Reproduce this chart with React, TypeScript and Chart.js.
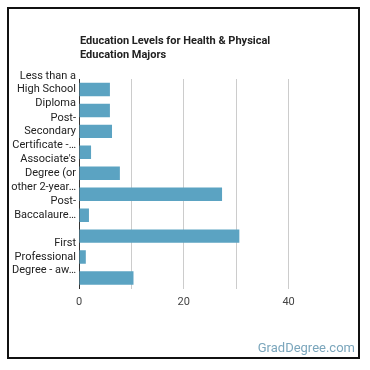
import React, { useEffect, useRef } from "react";
import { Chart, registerables } from "chart.js";
Chart.register(...registerables);

const titleLines = ["Education Levels for Health & Physical", "Education Majors"];
const categories = [
  "Less than a High School Diploma",
  "High School Diploma",
  "Post-Secondary Certificate - awarded for training completed during a period of less than one year",
  "Some College Courses",
  "Associate's Degree (or other 2-year degree)",
  "Bachelor's Degree",
  "Post-Baccalaureate Certificate",
  "Master's Degree",
  "First Professional Degree - awarded for completion of a program",
  "Doctoral Degree",
];
const values = [5.9, 5.9, 6.3, 2.3, 7.8, 27.3, 1.9, 30.6, 1.3, 10.4];
const tickLabels: string[][] = [
  ["Less than a", "High School", "Diploma"],
  [],
  ["Post-", "Secondary", "Certificate -…"],
  [],
  ["Associate's", "Degree (or", "other 2-year…"],
  [],
  ["Post-", "Baccalaure…", ""],
  [],
  ["First", "Professional", "Degree - aw…"],
  [],
];
const xTickLabels = [0, 20, 40];
const xMax = 50;
const xStep = 10;
const watermark = "GradDegree.com";

export default function App() {
  const ref = useRef<HTMLCanvasElement | null>(null);
  useEffect(() => {
    if (!ref.current) return;
    const chart = new Chart(ref.current, {
      type: "bar",
      data: {
        labels: categories,
        datasets: [
          {
            data: values,
            backgroundColor: "#5ba3c2",
            borderWidth: 0,
            categoryPercentage: 1,
            barPercentage: 0.64,
          },
        ],
      },
      options: {
        indexAxis: "y",
        animation: false,
        responsive: false,
        maintainAspectRatio: false,
        layout: { padding: { left: 0, right: 29, top: 79, bottom: 0 } },
        plugins: {
          legend: { display: false },
          tooltip: { enabled: false },
          title: { display: false },
        },
        scales: {
          x: {
            min: 0,
            max: xMax,
            ticks: {
              stepSize: xStep,
              autoSkip: false,
              maxRotation: 0,
              callback: (v: any) => (xTickLabels.includes(Number(v)) ? String(v) : ""),
              color: "#444",
              font: { family: "Roboto", size: 11 },
              padding: 7,
            },
            grid: {
              drawTicks: false,
              color: (ctx: any) =>
                ctx.tick && (ctx.tick.value === 0 || ctx.tick.value === xMax) ? "rgba(0,0,0,0)" : "#cccccc",
            },
            border: { display: false },
            afterFit: (s: any) => {
              s.height = 370 - 288.5;
            },
          },
          y: {
            ticks: {
              autoSkip: false,
              callback: (_v: any, i: number) => (tickLabels[i].length ? tickLabels[i] : ""),
              color: "#222",
              font: { family: "Roboto", size: 11, lineHeight: 1.23 },
              padding: 3,
            },
            grid: { display: false, drawTicks: false },
            border: { display: true, color: "#333", width: 1 },
            afterFit: (s: any) => {
              s.width = 79;
            },
          },
        },
      } as any,
    });
    return () => chart.destroy();
  }, []);

  return (
    <div style={{ position: "fixed", left: 0, top: 0, width: 370, height: 370, background: "#fff" }}>
      <canvas ref={ref} width={370} height={370} style={{ position: "absolute", left: 0, top: 0, display: "block" }} />
      <div
        style={{
          position: "absolute",
          left: 7,
          top: 7,
          width: 353,
          height: 352,
          border: "2px solid #111",
          boxSizing: "border-box",
          pointerEvents: "none",
        }}
      />
      <div
        style={{
          position: "absolute",
          left: 80,
          top: 33.5,
          fontFamily: "Roboto",
          fontWeight: "bold",
          fontSize: 11,
          lineHeight: "14.5px",
          color: "#222",
          whiteSpace: "nowrap",
        }}
      >
        {titleLines.map((t, i) => (
          <div key={i}>{t}</div>
        ))}
      </div>
      <div
        style={{
          position: "absolute",
          right: 15,
          top: 339.5,
          fontFamily: "Roboto",
          fontSize: 13,
          lineHeight: "16px",
          color: "#7ba6bc",
          whiteSpace: "nowrap",
        }}
      >
        {watermark}
      </div>
    </div>
  );
}
